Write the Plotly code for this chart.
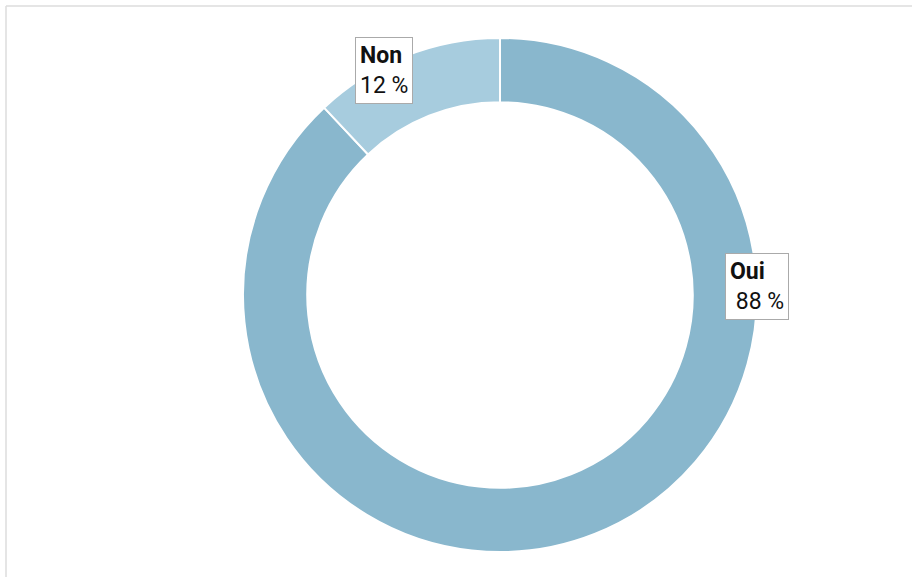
import plotly.graph_objects as go

labels = ["Oui", "Non"]
values = [88, 12]
colors = ["#89B7CD", "#A7CCDE"]
box_texts = ["<b>Oui</b><br> 88 %", "<b>Non</b><br>12 %"]

W, H = 912, 577
cx, cy, r = 500, 295, 257

fig = go.Figure(go.Pie(
    labels=labels, values=values, sort=False, direction="clockwise", rotation=0,
    hole=0.75, textinfo="none", hoverinfo="label+percent",
    marker=dict(colors=colors, line=dict(color="white", width=2)),
    domain=dict(x=[(cx - r) / W, (cx + r) / W], y=[(H - cy - r) / H, (H - cy + r) / H]),
    showlegend=False,
))

# label boxes, same order as the slices
positions = [(756.5, 286.5), (383.5, 71)]
for (px, py), t in zip(positions, box_texts):
    fig.add_annotation(
        x=px / W, y=1 - py / H, xref="paper", yref="paper",
        text=t, showarrow=False, align="left",
        font=dict(family="Roboto", size=23, color="#111"),
        bgcolor="white", bordercolor="#aaaaaa", borderwidth=1, borderpad=4,
        xanchor="center", yanchor="middle",
    )

fig.add_shape(type="line", xref="paper", yref="paper", x0=6 / W, x1=1, y0=1 - 6 / H, y1=1 - 6 / H,
              line=dict(color="#dddddd", width=1.5))
fig.add_shape(type="line", xref="paper", yref="paper", x0=6 / W, x1=6 / W, y0=0, y1=1 - 6 / H,
              line=dict(color="#dddddd", width=1.5))

fig.update_layout(width=W, height=H, margin=dict(l=0, r=0, t=0, b=0),
                  paper_bgcolor="white", plot_bgcolor="white")
fig.write_html("out.html", config={"displayModeBar": False},
               post_script="document.body.style.margin='0px';")
